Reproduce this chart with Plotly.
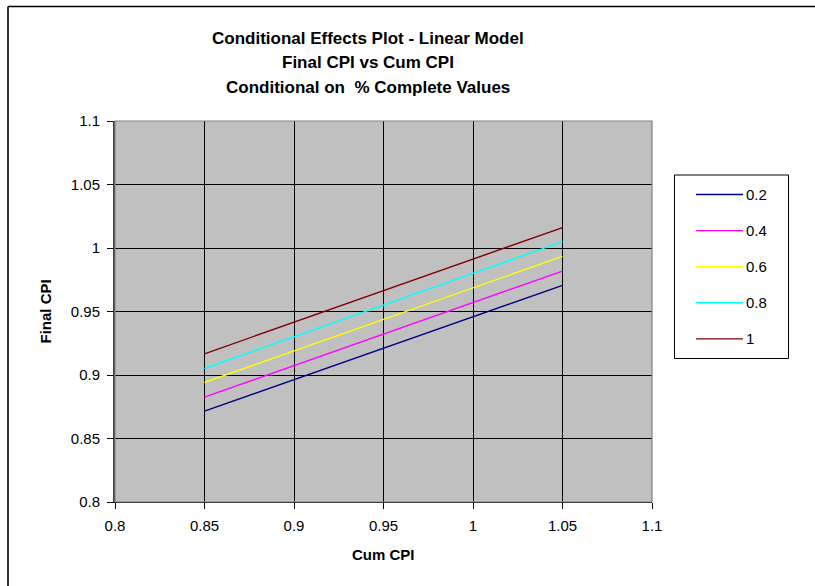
import plotly.graph_objects as go

# Cum CPI endpoints of each fitted line
cum_cpi = [0.85, 1.05]

# % Complete levels the model is conditioned on
pct_complete = ["0.2", "0.4", "0.6", "0.8", "1"]

# Predicted Final CPI at each Cum CPI endpoint
final_cpi_02 = [0.8716, 0.9706]
final_cpi_04 = [0.8826, 0.9818]
final_cpi_06 = [0.8941, 0.9934]
final_cpi_08 = [0.9051, 1.0050]
final_cpi_10 = [0.9167, 1.0161]

series_values = [final_cpi_02, final_cpi_04, final_cpi_06, final_cpi_08, final_cpi_10]
series_colors = ["#000080", "#FF00FF", "#FFFF00", "#00FFFF", "#800000"]

x_ticks = [0.8, 0.85, 0.9, 0.95, 1.0, 1.05, 1.1]
x_tick_text = ["0.8", "0.85", "0.9", "0.95", "1", "1.05", "1.1"]
y_ticks = [0.8, 0.85, 0.9, 0.95, 1.0, 1.05, 1.1]
y_tick_text = ["0.8", "0.85", "0.9", "0.95", "1", "1.05", "1.1"]

title_lines = [
    "Conditional Effects Plot - Linear Model",
    "Final CPI vs Cum CPI",
    "Conditional on  % Complete Values",
]

W, H = 815, 586
ML, MR, MT, MB = 115, 163, 121, 84
PW, PH = W - ML - MR, H - MT - MB
FONT = "Liberation Sans, Arial, sans-serif"


def px_x(p):
    return (p - ML) / PW


def px_y(p):
    return (H - MB - p) / PH


fig = go.Figure()
for name, vals, col in zip(pct_complete, series_values, series_colors):
    fig.add_trace(go.Scatter(
        x=cum_cpi, y=vals, mode="lines", name=name,
        line=dict(color=col, width=1.4), showlegend=False,
    ))

shapes = []
annotations = []

# outer chart frame (left and top edges fall inside the view)
shapes.append(dict(type="line", xref="paper", yref="paper",
                   x0=px_x(8), x1=px_x(8), y0=px_y(6.5), y1=px_y(H + 5),
                   line=dict(color="black", width=1.6), layer="below"))
shapes.append(dict(type="line", xref="paper", yref="paper",
                   x0=px_x(8), x1=px_x(W + 5), y0=px_y(6.5), y1=px_y(6.5),
                   line=dict(color="black", width=1.6), layer="below"))
# plot area frame
shapes.append(dict(type="rect", xref="paper", yref="paper",
                   x0=0, x1=1, y0=0, y1=1,
                   line=dict(color="#808080", width=1.2), layer="above"))

# legend box and entries
shapes.append(dict(type="rect", xref="paper", yref="paper",
                   x0=px_x(674.5), x1=px_x(788.5), y0=px_y(175), y1=px_y(358.5),
                   line=dict(color="black", width=1), fillcolor="white"))
entry_y0, entry_step = 194.5, 36.1
for i, (name, col) in enumerate(zip(pct_complete, series_colors)):
    yy = entry_y0 + i * entry_step
    shapes.append(dict(type="line", xref="paper", yref="paper",
                       x0=px_x(696), x1=px_x(743), y0=px_y(yy), y1=px_y(yy),
                       line=dict(color=col, width=1.4)))
    annotations.append(dict(x=px_x(744), y=px_y(yy), xref="paper", yref="paper",
                            text=name, showarrow=False, xanchor="left", yanchor="middle",
                            font=dict(family=FONT, size=15, color="black")))

# title lines
for i, line in enumerate(title_lines):
    annotations.append(dict(x=px_x(368), y=px_y(38 + i * 24.5), xref="paper", yref="paper",
                            text="<b>" + line + "</b>", showarrow=False,
                            xanchor="center", yanchor="middle",
                            font=dict(family=FONT, size=17, color="black")))

# axis titles
annotations.append(dict(x=px_x(383.5), y=px_y(554), xref="paper", yref="paper",
                        text="<b>Cum CPI</b>", showarrow=False,
                        xanchor="center", yanchor="middle",
                        font=dict(family=FONT, size=15, color="black")))
annotations.append(dict(x=px_x(45), y=px_y(311.5), xref="paper", yref="paper",
                        text="<b>Final CPI</b>", showarrow=False, textangle=-90,
                        xanchor="center", yanchor="middle",
                        font=dict(family=FONT, size=15, color="black")))

axis_common = dict(
    showgrid=True, gridcolor="black", gridwidth=1,
    ticks="outside", ticklen=6, tickcolor="black", tickwidth=1,
    tickfont=dict(family=FONT, size=15, color="black"),
    ticklabelstandoff=4,
    zeroline=False, showline=True, linecolor="black", linewidth=1,
    fixedrange=True,
)

fig.update_layout(
    width=W, height=H,
    margin=dict(l=ML, r=MR, t=MT, b=MB, autoexpand=False),
    paper_bgcolor="white", plot_bgcolor="#C0C0C0",
    xaxis=dict(range=[0.8, 1.1], tickvals=x_ticks, ticktext=x_tick_text, **axis_common),
    yaxis=dict(range=[0.8, 1.1], tickvals=y_ticks, ticktext=y_tick_text, **axis_common),
    shapes=shapes, annotations=annotations, showlegend=False,
)
fig.update_yaxes(linecolor="#404040", linewidth=2)

fig.write_html("out.html", config={"displayModeBar": False})
